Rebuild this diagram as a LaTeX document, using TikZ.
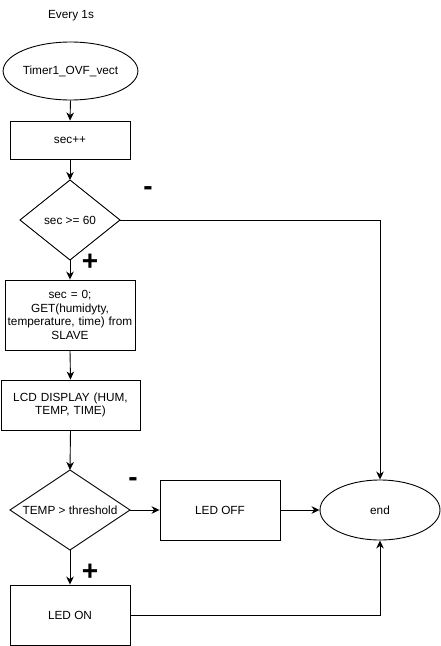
\documentclass[tikz,border=0pt]{standalone}
\usepackage{fontspec}
\setmainfont{Liberation Sans}
\usetikzlibrary{shapes.geometric,arrows.meta}
\begin{document}
\begin{tikzpicture}[x=1pt,y=-1pt,
  every node/.style={font=\fontsize{11.8}{13.8}\selectfont},
  line/.style={draw=black,line width=0.9pt},
  arr/.style={line,-{Stealth[length=8pt,width=7.5pt,inset=2.5pt]}},
  box/.style={draw=black,line width=0.9pt,rectangle,inner sep=0pt,align=center},
  oval/.style={draw=black,line width=0.9pt,ellipse,inner sep=0pt},
  sign/.style={font=\fontsize{28}{28}\selectfont\bfseries,inner sep=0pt}]
\useasboundingbox (0,0) rectangle (441,646);
\node (every) at (71,16) {Every 1s};
\node[oval,minimum width=121pt,minimum height=58pt] (timer) at (70.5,71) {Timer1\_OVF\_vect};
\node[box,minimum width=120pt,minimum height=38pt] (sec) at (70,140) {sec++};
\node[inner sep=0pt] (d1) at (70,220) {sec >= 60};
\draw[line] (20,220) -- (70,180) -- (120,220) -- (70,260) -- cycle;
\coordinate (d1t) at (70,180);
\coordinate (d1r) at (120,220);
\coordinate (d1b) at (70,260);
\node[box,minimum width=130pt,minimum height=70pt,text width=128pt] (get) at (70,315) {sec = 0;\\GET(humidyty,\\temperature, time) from\\SLAVE};
\node[box,minimum width=139pt,minimum height=50pt,text width=130pt] (lcd) at (70.5,405) {LCD DISPLAY (HUM,\\TEMP, TIME)};
\node (d2) at (70,510) {TEMP > threshold};
\draw[line] (10,510) -- (70,470) -- (130,510) -- (70,550) -- cycle;
\coordinate (d2t) at (70,470);
\coordinate (d2r) at (130,510);
\coordinate (d2b) at (70,550);
\node[box,minimum width=120pt,minimum height=60pt] (off) at (220,510) {LED OFF};
\node[oval,minimum width=120pt,minimum height=60pt] (end) at (380,510) {end};
\node[box,minimum width=120pt,minimum height=60pt] (on) at (70,615) {LED ON};
\node[sign] (m1) at (148,191) {-};
\node[sign] (p1) at (90,262) {+};
\node[sign] (m2) at (133,482) {-};
\node[sign] (p2) at (90,572) {+};
\draw[arr] (timer.south) -- (sec.north);
\draw[arr] (sec.south) -- (d1t);
\draw[arr] (d1b) -- (get.north);
\draw[arr] (get.south) -- (lcd.north);
\draw[arr] (lcd.south) -- (d2t);
\draw[arr] (d2r) -- (off.west);
\draw[arr] (d2b) -- (on.north);
\draw[arr] (off.east) -- (end.west);
\draw[arr] (d1r) -| (end.north);
\draw[arr] (on.east) -| (end.south);
\end{tikzpicture}
\end{document}
